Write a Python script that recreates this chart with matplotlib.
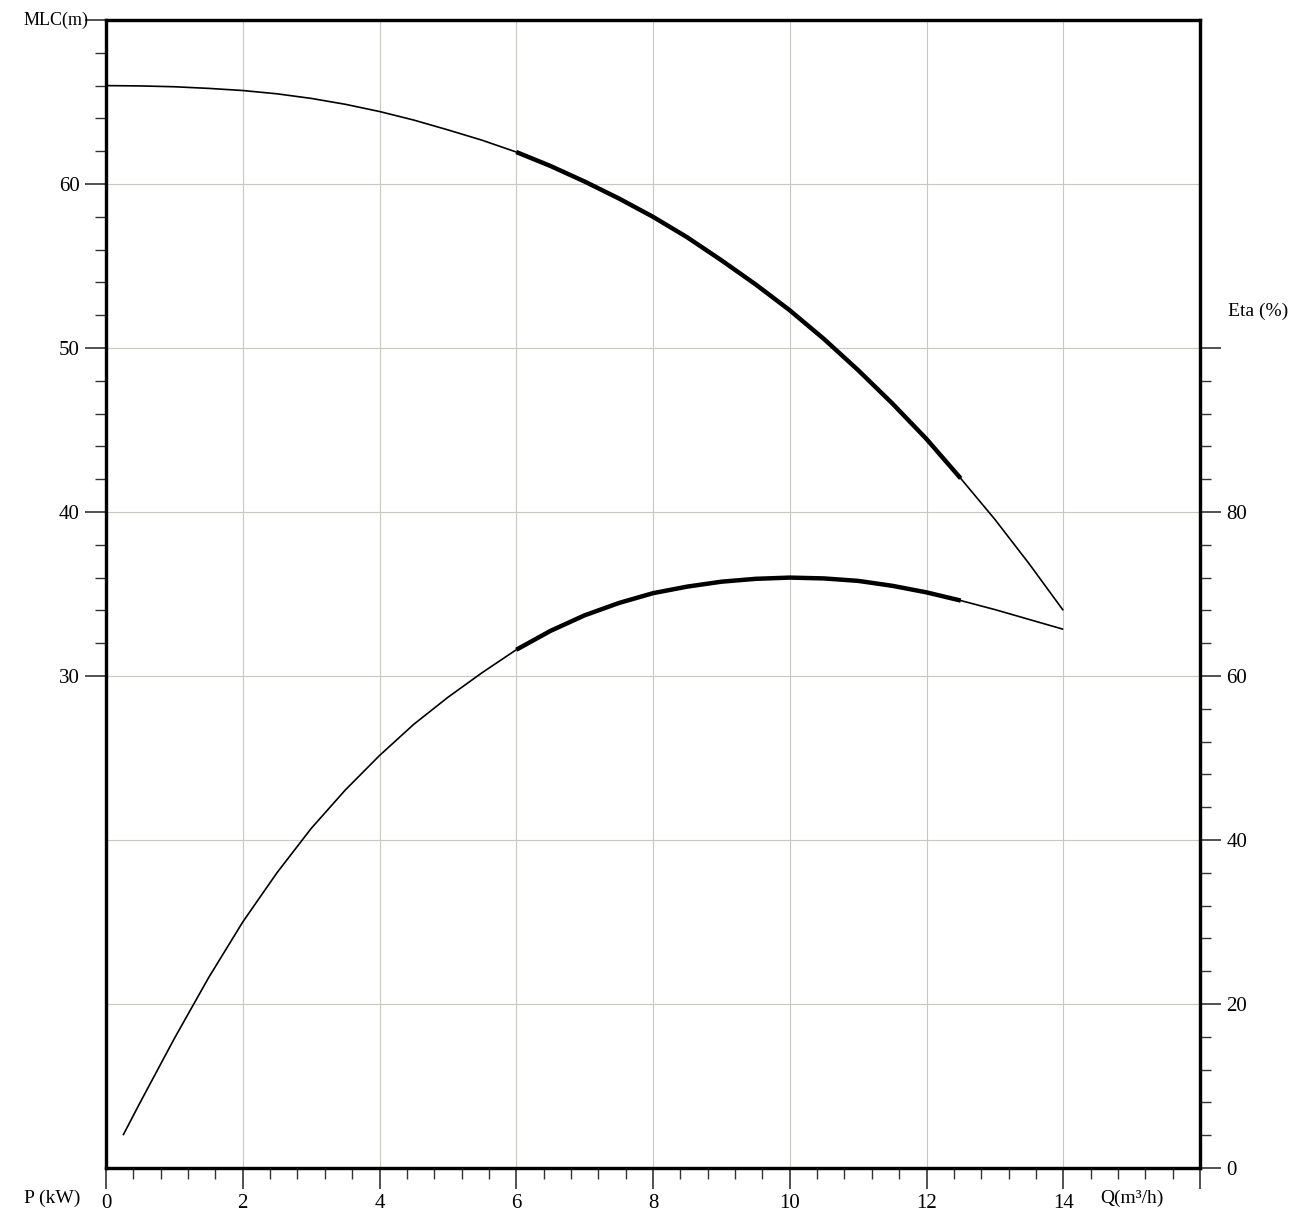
import numpy as np
import matplotlib.pyplot as plt

plt.rcParams['font.family'] = ['Liberation Serif', 'DejaVu Serif']

# Head curve, Q (m3/h) vs MLC (m)
q_head = [0, 0.5, 1, 1.5, 2, 2.5, 3, 3.5, 4, 4.5, 5, 5.5, 6, 6.5, 7, 7.5, 8,
          8.5, 9, 9.5, 10, 10.5, 11, 11.5, 12, 12.5, 13, 13.5, 14]
head = [66.00, 65.98, 65.93, 65.83, 65.70, 65.50, 65.22, 64.86, 64.42, 63.90,
        63.30, 62.67, 61.95, 61.10, 60.15, 59.12, 58.00, 56.75, 55.35, 53.88,
        52.30, 50.55, 48.65, 46.62, 44.45, 42.05, 39.55, 36.85, 34.00]

# Efficiency curve, Q (m3/h) vs Eta (%)
q_eta = [0.25, 0.5, 1, 1.5, 2, 2.5, 3, 3.5, 4, 4.5, 5, 5.5, 6, 6.5, 7, 7.5, 8,
         8.5, 9, 9.5, 10, 10.5, 11, 11.5, 12, 12.5, 13, 13.5, 14]
eta = [4.0, 8.0, 15.8, 23.2, 30.0, 36.0, 41.4, 46.1, 50.3, 54.1, 57.4, 60.4,
       63.2, 65.5, 67.4, 68.9, 70.1, 70.9, 71.5, 71.85, 72.0, 71.9, 71.6, 71.0,
       70.2, 69.2, 68.1, 66.9, 65.7]

# recommended operating range (drawn thick)
q_lo, q_hi = 6, 12.5

x_ticks = [0, 2, 4, 6, 8, 10, 12, 14, 16]
x_labels = ['0', '2', '4', '6', '8', '10', '12', '14', '']
h_ticks = [30, 40, 50, 60, 70]
h_labels = ['30', '40', '50', '60', '']
e_ticks = [0, 20, 40, 60, 80, 100]
e_labels = ['0', '20', '40', '60', '80', '']

fig = plt.figure(figsize=(13.14, 12.2), dpi=100)
ax = fig.add_axes([106 / 1314, 1 - 1168 / 1220, 1094 / 1314, 1148 / 1220])
ax2 = ax.twinx()

ax.set_xlim(0, 16)
ax.set_ylim(0, 70)
ax2.set_ylim(0, 140)

# grid
gc = '#c8c8c2'
for x in range(2, 16, 2):
    ax.axvline(x, color=gc, lw=0.8, zorder=0)
for y in range(10, 70, 10):
    ax.axhline(y, color=gc, lw=0.8, zorder=0)

# curves
qh = np.array(q_head)
hh = np.array(head)
ax.plot(qh, hh, color='black', lw=1.2, solid_capstyle='butt', solid_joinstyle='round')
m = (qh >= q_lo) & (qh <= q_hi)
ax.plot(qh[m], hh[m], color='black', lw=3.2, solid_capstyle='butt', solid_joinstyle='round')

qe = np.array(q_eta)
ee = np.array(eta)
ax2.plot(qe, ee, color='black', lw=1.2, solid_capstyle='butt', solid_joinstyle='round')
m = (qe >= q_lo) & (qe <= q_hi)
ax2.plot(qe[m], ee[m], color='black', lw=3.2, solid_capstyle='butt', solid_joinstyle='round')

# ticks
ax.set_xticks(x_ticks)
ax.set_xticklabels(x_labels)
ax.set_xticks(np.arange(0, 16.01, 0.4), minor=True)
ax.set_yticks(h_ticks)
ax.set_yticklabels(h_labels)
ax.set_yticks(np.arange(30, 70.01, 2), minor=True)
ax2.set_yticks(e_ticks)
ax2.set_yticklabels(e_labels)
ax2.set_yticks(np.arange(0, 100.01, 4), minor=True)

for a in (ax, ax2):
    a.tick_params(which='major', direction='out', length=15, width=1.2,
                  labelsize=15, pad=4, color='#333333')
    a.tick_params(which='minor', direction='out', length=8, width=1.0,
                  color='#333333')
    for s in a.spines.values():
        s.set_linewidth(2.3)
ax.tick_params(axis='x', which='major', pad=4)

# axis titles
fig.text(24 / 1314, 1 - 20 / 1220, 'MLC(m)', fontsize=13, va='center', ha='left')
fig.text(1228 / 1314, 1 - 311 / 1220, 'Eta (%)', fontsize=14, va='center', ha='left')
fig.text(24 / 1314, 1 - 1198 / 1220, 'P (kW)', fontsize=14, va='center', ha='left')
fig.text(1100 / 1314, 1 - 1198 / 1220, 'Q(m³/h)', fontsize=14, va='center', ha='left')

fig.savefig('out.png', dpi=100, facecolor='white')
